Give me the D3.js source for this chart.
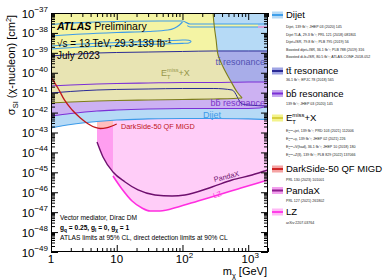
<!DOCTYPE html>
<html><head><meta charset="utf-8">
<script src="https://cdn.jsdelivr.net/npm/d3@7"></script>
<style>
html,body{margin:0;padding:0;background:#fff;}
svg{display:block;font-family:"Liberation Sans",Arial,Helvetica,sans-serif;}
</style></head><body>
<svg id="chart" width="390" height="280"></svg>
<script>
// ---------------- data ----------------
const massDomain = [1, 2000];
const sigmaDomain = [1e-49, 1e-37];
const xMajorTicks = [1, 10, 100, 1000];
const xTickBase = ["1", "10", "10", "10"];
const xTickExp = ["", "", "2", "3"];
const yTickExps = [-49, -48, -47, -46, -45, -44, -43, -42, -41, -40, -39, -38, -37];

// collider exclusion boundaries [m_chi (GeV), sigma (cm^2)]
const dijetLow = [[1,1.69e-43],[2,2.53e-43],[5,3.57e-43],[10,4.25e-43],[30,4.78e-43],[100,5.06e-43],[300,5.06e-43],[1000,4.78e-43],[2000,4.51e-43]];
const dijetLine1 = [[1,2.65e-38],[1.5,2.97e-38],[3,3.34e-38],[10,3.74e-38],[45,3.96e-38],[100,3.96e-38],[130,2.81e-38],[2000,2.81e-38]];
const dijetLine2 = [[1,7.0e-39],[3,8.83e-39],[10,1.05e-38],[30,1.18e-38],[60,1.4e-38],[90,2.5e-38],[100,3.53e-38]];
const dijetLoop = [[1,2.2e-39],[3,2.78e-39],[10,3.3e-39],[50,3.93e-39],[100,4.41e-39],[125,4.3e-39],[135,3.71e-39],[125,3.12e-39],[100,3.0e-39],[50,2.78e-39],[10,2.33e-39],[3,1.96e-39],[1,1.56e-39]];
const isrStrip = [[115,3.4e-38],[130,2.81e-38],[1409,2.81e-38],[1409,1.98e-38],[130,1.98e-38],[118,2.3e-38]];
const isrStripLow = [[118,2.3e-38],[130,1.98e-38],[1409,1.98e-38]];
const isrTail = [[1409,1.98e-38],[2000,1.98e-38]];
const ttHigh = [[1,6.93e-40],[2,8.26e-40],[5,9.82e-40],[10,1.04e-39],[30,1.10e-39],[100,1.17e-39],[300,1.24e-39],[1000,1.24e-39],[2000,1.24e-39]];
const ttLow = [[1,9.64e-42],[2,1.15e-41],[5,1.36e-41],[10,1.45e-41],[30,1.53e-41],[100,1.62e-41],[300,1.62e-41],[570,1.36e-41],[810,2.70e-42],[1000,2.41e-42],[2000,2.14e-42]];
const bbHigh = [[1,2.16e-41],[2,2.43e-41],[5,2.73e-41],[10,2.89e-41],[30,3.06e-41],[100,3.24e-41],[300,3.24e-41],[1000,3.44e-41],[2000,3.44e-41]];
const bbLow = [[1,6.75e-43],[2,9.01e-43],[5,1.20e-42],[10,1.35e-42],[30,1.52e-42],[100,1.61e-42],[300,1.61e-42],[1000,1.61e-42],[1500,1.70e-42],[2000,2.14e-42]];
const etLow = [[1,3.03e-42],[2,3.40e-42],[5,3.82e-42],[10,4.05e-42],[30,4.29e-42],[100,4.55e-42],[300,4.82e-42],[600,5.10e-42],[807,5.41e-42]];
const etEdge = [[807,5.41e-42],[678,1.08e-41],[530,4.34e-41],[415,1.95e-40],[348,7.80e-40],[325,4.42e-39],[303,2.50e-38],[292,1e-37]];

// direct detection limits
const darkside = [[1,6.12e-41],[1.3,1.53e-41],[1.6,4.30e-42],[2.1,1.35e-42],[2.8,5.36e-43],[3.7,2.68e-43],[4.7,1.79e-43],[5.6,1.59e-43],[6.9,1.69e-43],[8.5,2.12e-43],[10,2.68e-43]];
const pandax = [[5.01,3.34e-44],[6.18,5.90e-45],[8.77,1.04e-45],[13.4,3.28e-46],[21.1,1.30e-46],[38.2,7.30e-47],[69.3,6.50e-47],[109,7.30e-47],[281,1.84e-46],[567,4.13e-46],[1142,7.36e-46],[2000,1.31e-45]];
const lz = [[8.77,6.56e-46],[12.0,1.46e-46],[17.1,3.65e-47],[24.2,1.63e-47],[32.1,1.15e-47],[45.5,1.15e-47],[85.5,1.82e-47],[172,3.65e-47],[347,7.30e-47],[699,1.46e-46],[1409,2.92e-46],[2000,4.13e-46]];

const legendLabels = ["Dijet", "tt\u0304 resonance", "bb\u0304 resonance", "ETMISS", "DarkSide-50 QF MIGD", "PandaX", "LZ"];
const legendRefs = [
  ["Dijet, 139 fb\u207B\u00B9; JHEP 03 (2020) 145", "Dijet TLA, 29.3 fb\u207B\u00B9; PRL 121 (2018) 081801", "Dijet+ISR, 79.8 fb\u207B\u00B9; PLB 795 (2019) 56", "Boosted dijet+ISR, 36.1 fb\u207B\u00B9; PLB 788 (2019) 316", "Boosted di-b+ISR, 80.5 fb\u207B\u00B9; ATLAS-CONF-2018-052"],
  ["36.1 fb\u207B\u00B9; EPJC 78 (2018) 565"],
  ["139 fb\u207B\u00B9; JHEP 03 (2020) 145"],
  ["#+jet, 139 fb\u207B\u00B9; PRD 103 (2021) 112006", "#+\u03B3, 139 fb\u207B\u00B9; JHEP 02 (2021) 226", "#+V(had), 36.1 fb\u207B\u00B9; JHEP 10 (2018) 180", "#+Z(ll), 139 fb\u207B\u00B9; PLB 829 (2022) 137066"],
  ["PRL 130 (2023) 101001"],
  ["PRL 127 (2021) 261802"],
  ["arXiv:2207.03764"]
];

// ---------------- styles ----------------
const C = {
  dijetFill:"#b6daf6", dijetLine:"#3d9be9",
  ttFill:"#a8ade9", ttLine:"#2b2b96",
  bbFill:"#ccb1f2", bbLine:"#7b2fd6",
  etFill:"#f4f4a4", etKhaki:"#e8e4b3", etLine:"#7c7c1c",
  dsLine:"#c0161a", dsFill:"#ffbebe",
  pxFill:"#ff9ef0", pxLine:"#6e0f6e",
  lzFill:"#ffcdf8", lzLine:"#ff2ee0"
};
const legendSw = [
  ["#b4d9f6","#3f9fea"],["#9fa4e4","#2a2a95"],["#c6a6ef","#7b2fd6"],["#f3f38c","#d8d040"],
  ["#f5a3a3","#cf2525"],["#f3a0ee","#8e1d8e"],["#ffb9f6","#ff3fe8"]
];
const legendY = [15, 71, 93.5, 118, 169, 190.5, 212];
const legendSubY = [[27,34.5,42,49.5,57],[80],[104],[131,139,147,155],[179.5],[200.5],[222.5]];

// ---------------- scales ----------------
const L = 51, R = 268, T = 13, B = 252;
const x = d3.scaleLog().domain(massDomain).range([L, R]);
const y = d3.scaleLog().domain(sigmaDomain).range([B, T]);
const sTop = sigmaDomain[1], sBot = sigmaDomain[0];

const svg = d3.select("#chart");
const line = d3.line().x(d => x(d[0])).y(d => y(d[1])).curve(d3.curveMonotoneX);
const lineLin = d3.line().x(d => x(d[0])).y(d => y(d[1]));
const poly = d3.line().x(d => x(d[0])).y(d => y(d[1])).curve(d3.curveLinearClosed);
const smooth = d3.line().x(d => x(d[0])).y(d => y(d[1])).curve(d3.curveCatmullRom);

const defs = svg.append("defs");
defs.append("clipPath").attr("id","plotClip").append("rect").attr("x",L).attr("y",T).attr("width",R-L).attr("height",B-T);
const pxPoly = [[pandax[0][0], sTop]].concat(pandax).concat([[massDomain[1], sTop]]);
defs.append("clipPath").attr("id","pxClip").append("path").attr("d", poly(pxPoly));
const etPoly = etLow.concat(etEdge.slice(1)).concat([[massDomain[0], sTop]]);
defs.append("clipPath").attr("id","etClip").append("path").attr("d", poly(etPoly));

const g = svg.append("g").attr("clip-path","url(#plotClip)");

// direct detection fills
g.append("path").attr("d", poly(pxPoly)).attr("fill", C.pxFill);
g.append("g").attr("clip-path","url(#pxClip)").append("path")
  .attr("d", poly(darkside.concat([[darkside[darkside.length-1][0], sTop],[massDomain[0], sTop]])))
  .attr("fill", C.dsFill);
g.append("path").attr("d", poly([[lz[0][0], sTop]].concat(lz).concat([[massDomain[1], sTop]]))).attr("fill", C.lzFill);

// collider fills
g.append("path").attr("d", poly(dijetLow.concat([[massDomain[1], sTop],[massDomain[0], sTop]]))).attr("fill", C.dijetFill);
g.append("path").attr("d", poly(ttHigh.concat(ttLow.slice().reverse()))).attr("fill", C.ttFill);
g.append("path").attr("d", poly(bbHigh.concat(bbLow.slice().reverse()))).attr("fill", C.bbFill);
g.append("path").attr("d", poly(etPoly)).attr("fill", C.etFill);
g.append("g").attr("clip-path","url(#etClip)").append("path")
  .attr("d", poly(ttHigh.concat([[massDomain[1], sBot],[massDomain[0], sBot]])))
  .attr("fill", C.etKhaki);
g.append("path").attr("d", poly(isrStrip)).attr("fill", C.etFill);

// collider lines
const strokes = [
  [line(dijetLow), C.dijetLine, 1.2],
  [line(dijetLine1), C.dijetLine, 1.2],
  [line(dijetLine2), C.dijetLine, 1.2],
  [smooth(dijetLoop), C.dijetLine, 1.1],
  [lineLin(isrStripLow), C.dijetLine, 1],
  [lineLin(isrTail), "#f07ccc", 1.2],
  [line(ttHigh), C.ttLine, 1],
  [line(ttLow), C.ttLine, 1],
  [line(bbHigh), C.bbLine, 1.1],
  [line(bbLow), C.bbLine, 1.1],
  [line(etLow), C.etLine, 1.1],
  [smooth(etEdge), C.etLine, 1.1],
  [line(darkside), C.dsLine, 1.3],
  [line(pandax), C.pxLine, 1.4],
  [line(lz), C.lzLine, 1.6]
];
strokes.forEach(s => g.append("path").attr("d", s[0]).attr("fill","none").attr("stroke", s[1]).attr("stroke-width", s[2]));

// ---------------- axes ----------------
const minorX = x.ticks().filter(v => xMajorTicks.indexOf(v) < 0);
const yAll = y.ticks(100);
const majorY = yTickExps.map(e => Math.pow(10, e));
const minorY = yAll.filter(v => Math.abs(Math.log10(v) - Math.round(Math.log10(v))) > 1e-6);
function styleAxis(sel){ sel.select(".domain").remove(); sel.selectAll("line").attr("stroke","#000"); sel.selectAll("text").remove(); }
[[d3.axisBottom, B],[d3.axisTop, T]].forEach(([fn, pos]) => {
  svg.append("g").attr("transform",`translate(0,${pos})`).call(fn(x).tickValues(xMajorTicks).tickSize(-7).tickSizeOuter(0)).call(styleAxis);
  svg.append("g").attr("transform",`translate(0,${pos})`).call(fn(x).tickValues(minorX).tickSize(-4).tickSizeOuter(0)).call(styleAxis);
});
[[d3.axisLeft, L],[d3.axisRight, R]].forEach(([fn, pos]) => {
  svg.append("g").attr("transform",`translate(${pos},0)`).call(fn(y).tickValues(majorY).tickSize(-7).tickSizeOuter(0)).call(styleAxis);
  svg.append("g").attr("transform",`translate(${pos},0)`).call(fn(y).tickValues(minorY).tickSize(-4).tickSizeOuter(0)).call(styleAxis);
});
svg.append("rect").attr("x",L+0.5).attr("y",T+0.5).attr("width",R-L-1).attr("height",B-T-1).attr("fill","none").attr("stroke","#000").attr("stroke-width",1);

// tick labels
yTickExps.forEach(e => {
  const t = svg.append("text").attr("x", 48).attr("y", y(Math.pow(10,e)) + 4.5).attr("text-anchor","end").attr("font-size", 11.5);
  t.append("tspan").text("10");
  t.append("tspan").attr("font-size", 8).attr("dy", -5.5).text("\u2212" + Math.abs(e));
});
xMajorTicks.forEach((v, i) => {
  const t = svg.append("text").attr("x", x(v) + (xTickExp[i] ? 2 : 0)).attr("y", 263).attr("text-anchor","middle").attr("font-size", 11.5);
  t.append("tspan").text(xTickBase[i]);
  if (xTickExp[i]) t.append("tspan").attr("font-size", 8).attr("dy", -5.5).text(xTickExp[i]);
});

// axis titles
{
  const t = svg.append("text").attr("transform","translate(15,65) rotate(-90)").attr("text-anchor","middle").attr("font-size", 11);
  t.append("tspan").text("\u03C3");
  t.append("tspan").attr("font-size", 7.5).attr("dy", 3).text("SI");
  t.append("tspan").attr("dy", -3).text(" (\u03C7-nucleon) [cm");
  t.append("tspan").attr("font-size", 7.5).attr("dy", -4).text("2");
  t.append("tspan").attr("dy", 4).text("]");
}
{
  const t = svg.append("text").attr("x", 267).attr("y", 275).attr("text-anchor","end").attr("font-size", 11);
  t.append("tspan").text("m");
  t.append("tspan").attr("font-size", 7.5).attr("dy", 3).text("\u03C7");
  t.append("tspan").attr("dy", -3).text(" [GeV]");
}

// ---------------- annotations ----------------
function etmiss(t, fs, suffix){
  t.append("tspan").text("E");
  t.append("tspan").attr("font-size", fs*0.62).attr("dy", fs*0.3).text("T");
  t.append("tspan").attr("font-size", fs*0.62).attr("dx", -fs*0.62*0.61).attr("dy", -fs*0.72).text("miss");
  t.append("tspan").attr("dy", fs*0.42).text(suffix);
}
{
  const t = svg.append("text").attr("x", 57).attr("y", 30).attr("font-size", 10.5);
  t.append("tspan").attr("font-weight","bold").attr("font-style","italic").text("ATLAS");
  t.append("tspan").text(" Preliminary");
  const s = svg.append("text").attr("x", 57).attr("y", 47).attr("font-size", 10);
  s.append("tspan").text("\u221As = 13 TeV, 29.3-139 fb");
  s.append("tspan").attr("font-size", 7).attr("dy", -4).text("-1");
  svg.append("text").attr("x", 57).attr("y", 59).attr("font-size", 10).text("July 2023");
}
{
  const t = svg.append("text").attr("x", 161).attr("y", 76).attr("font-size", 9).attr("fill", "#96964a");
  etmiss(t, 9, "+X");
}
svg.append("text").attr("x", 265).attr("y", 64.5).attr("text-anchor","end").attr("font-size", 9).attr("fill","#5252b4").text("tt\u0304 resonance");
svg.append("text").attr("x", 265).attr("y", 106).attr("text-anchor","end").attr("font-size", 9).attr("fill","#7a34c8").text("bb\u0304 resonance");
svg.append("text").attr("x", 212).attr("y", 117.5).attr("text-anchor","middle").attr("font-size", 9).attr("fill", C.dijetLine).text("Dijet");
svg.append("text").attr("x", 121).attr("y", 128.5).attr("font-size", 7.3).attr("fill", C.dsLine).text("DarkSide-50 QF MIGD");
svg.append("text").attr("transform","translate(227,179) rotate(-14)").attr("text-anchor","middle").attr("font-size", 7.2).attr("fill", C.pxLine).text("PandaX");
svg.append("text").attr("transform","translate(218,197) rotate(-18)").attr("text-anchor","middle").attr("font-size", 7.2).attr("fill", C.lzLine).text("LZ");
{
  svg.append("text").attr("x", 60).attr("y", 219.5).attr("font-size", 6.6).text("Vector mediator, Dirac DM");
  const t = svg.append("text").attr("x", 60).attr("y", 229.5).attr("font-size", 6.6).attr("font-weight","bold");
  const parts = [["g",0],["q",1],[" = 0.25, g",0],["l",1],[" = 0, g",0],["\u03C7",1],[" = 1",0]];
  let prev = 0;
  parts.forEach(p => { const dy = (p[1] ? 2 : 0) - prev; prev = p[1] ? 2 : 0;
    t.append("tspan").attr("dy", dy).attr("font-size", p[1] ? 4.8 : 6.6).text(p[0]); });
  svg.append("text").attr("x", 60).attr("y", 239.5).attr("font-size", 6.6).text("ATLAS limits at 95% CL, direct detection limits at 90% CL");
}

// ---------------- legend ----------------
legendLabels.forEach((lab, i) => {
  const cy = legendY[i];
  svg.append("rect").attr("x", 272).attr("y", cy - 3.5).attr("width", 11).attr("height", 7).attr("fill", legendSw[i][0]);
  svg.append("rect").attr("x", 272).attr("y", cy - 1).attr("width", 11).attr("height", 2).attr("fill", legendSw[i][1]);
  const t = svg.append("text").attr("x", 286).attr("y", cy + 3.3).attr("font-size", 9.5);
  if (lab === "ETMISS") etmiss(t, 9.5, "+X"); else t.text(lab);
  legendRefs[i].forEach((ref, j) => {
    const s = svg.append("text").attr("x", 286).attr("y", legendSubY[i][j] + 1.3).attr("font-size", 3.6).attr("fill","#222");
    if (ref.startsWith("#")) etmiss(s, 3.6, ref.slice(1)); else s.text(ref);
  });
});
</script></body></html>
